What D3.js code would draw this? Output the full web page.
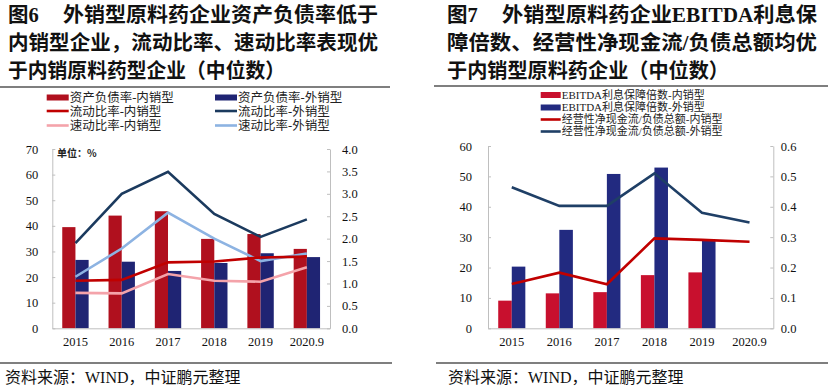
<!DOCTYPE html>
<html><head><meta charset="utf-8">
<script src="https://cdn.jsdelivr.net/npm/d3@7"></script>
<style>
body{margin:0;background:#fff;}
svg{display:block;}
text{font-family:"Liberation Serif","Noto Sans CJK SC",serif;}
</style></head>
<body>
<svg id="c" width="828" height="390"></svg>
<script>
// ---------- Data: Figure 6 ----------
const years6 = ["2015","2016","2017","2018","2019","2020.9"];
const debtRatioDomestic = [39.5, 44.0, 45.7, 34.9, 36.8, 31.0];
const debtRatioExport   = [26.7, 26.0, 22.4, 25.5, 29.3, 27.8];
const currentRatioDomestic = [1.06, 1.08, 1.47, 1.49, 1.58, 1.60];
const currentRatioExport   = [1.90, 3.00, 3.49, 2.55, 2.04, 2.43];
const quickRatioDomestic   = [0.79, 0.78, 1.21, 1.06, 1.04, 1.36];
const quickRatioExport     = [1.15, 1.78, 2.58, 2.00, 1.50, 1.67];
const leftTicks6 = [0,10,20,30,40,50,60,70];
const rightTicks6 = [0,0.5,1,1.5,2,2.5,3,3.5,4];

// ---------- Data: Figure 7 ----------
const years7 = ["2015","2016","2017","2018","2019","2020.9"];
const ebitdaDomestic = [9.1, 11.5, 11.9, 17.5, 18.4, null];
const ebitdaExport   = [20.3, 32.4, 50.8, 52.9, 29.1, null];
const cfoDebtDomestic = [0.146, 0.183, 0.145, 0.296, 0.291, 0.285];
const cfoDebtExport   = [0.464, 0.403, 0.403, 0.510, 0.380, 0.348];
const leftTicks7 = [0,10,20,30,40,50,60];
const rightTicks7 = [0,0.1,0.2,0.3,0.4,0.5,0.6];

const svg = d3.select("#c");
const AX = "#BFBFBF";

function titleBlock(x0, prefix, restX, lines, rightEdge){
  const g = svg.append("g").attr("font-weight","700").attr("font-size",20.5).attr("fill","#111")
    .style("font-family","'Liberation Serif','Noto Sans CJK SC',serif");
  g.append("text").attr("x",x0).attr("y",22).text(prefix);
  g.append("text").attr("x",restX).attr("y",22).text(lines[0])
    .attr("textLength",rightEdge-restX).attr("lengthAdjust","spacingAndGlyphs");
  g.append("text").attr("x",x0).attr("y",50).text(lines[1])
    .attr("textLength",rightEdge-x0).attr("lengthAdjust","spacingAndGlyphs");
  g.append("text").attr("x",x0).attr("y",78).text(lines[2].t)
    .attr("textLength",lines[2].w).attr("lengthAdjust","spacingAndGlyphs");
}

titleBlock(8, "图6", 63, ["外销型原料药企业资产负债率低于","内销型企业，流动比率、速动比率表现优",{t:"于内销原料药型企业（中位数）",w:277}], 378);
titleBlock(447, "图7", 502, ["外销型原料药企业EBITDA利息保","障倍数、经营性净现金流/负债总额均优",{t:"于内销型原料药企业（中位数）",w:282}], 817);

// separator lines
svg.append("line").attr("x1",0).attr("x2",390).attr("y1",87).attr("y2",87).attr("stroke","#000").attr("stroke-width",1.2);
svg.append("line").attr("x1",434).attr("x2",828).attr("y1",86).attr("y2",86).attr("stroke","#000").attr("stroke-width",1.2);
svg.append("line").attr("x1",0).attr("x2",392).attr("y1",363).attr("y2",363).attr("stroke","#000").attr("stroke-width",1.2);
svg.append("line").attr("x1",436).attr("x2",828).attr("y1",363).attr("y2",363).attr("stroke","#000").attr("stroke-width",1.2);
svg.append("text").attr("x",5).attr("y",383).attr("font-size",16).attr("fill","#111").text("资料来源：WIND，中证鹏元整理");
svg.append("text").attr("x",448).attr("y",383).attr("font-size",16).attr("fill","#111").text("资料来源：WIND，中证鹏元整理");

function chart(cfg){
  const g = svg.append("g");
  const x = d3.scaleBand().domain(cfg.cats).range([cfg.x0, cfg.x1]).padding(0);
  const xs = d3.scaleBand().domain([0,1]).range([x.bandwidth()*0.215, x.bandwidth()*0.785]);
  const y = d3.scaleLinear().domain([0,cfg.lmax]).range([cfg.yb, cfg.yt]);
  const y2 = d3.scaleLinear().domain([0,cfg.rmax]).range([cfg.yb, cfg.yt]);

  // bars
  cfg.bars.forEach((b,i)=>{
    g.append("g").selectAll("rect").data(b.values.map((v,j)=>({v,c:cfg.cats[j]})).filter(d=>d.v!=null))
      .join("rect")
      .attr("x",d=>x(d.c)+xs(i)).attr("width",xs.bandwidth())
      .attr("y",d=>y(d.v)).attr("height",d=>y(0)-y(d.v))
      .attr("fill",b.color);
  });

  // axes
  const la = g.append("g").attr("transform",`translate(${cfg.x0},0)`)
    .call(d3.axisLeft(y).tickValues(cfg.lticks).tickFormat(d3.format("d")).tickSizeInner(-3).tickSizeOuter(0).tickPadding(cfg.lpad));
  const ra = g.append("g").attr("transform",`translate(${cfg.x1},0)`)
    .call(d3.axisRight(y2).tickValues(cfg.rticks).tickFormat(d3.format(".1f")).tickSizeInner(-3).tickSizeOuter(0).tickPadding(cfg.rpad));
  const ba = g.append("g").attr("transform",`translate(0,${cfg.yb})`)
    .call(d3.axisBottom(x).tickSize(0).tickPadding(9));
  [la,ra,ba].forEach(a=>{
    a.selectAll("path,line").attr("stroke",AX);
    a.selectAll("text").attr("font-size",12.5).attr("fill","#111")
      .style("font-family","'Liberation Serif',serif");
  });

  // lines
  cfg.lines.forEach(l=>{
    const line = d3.line().defined(d=>d.v!=null).x(d=>x(d.c)+x.bandwidth()/2).y(d=>y2(d.v));
    g.append("path").datum(l.values.map((v,j)=>({v,c:cfg.cats[j]})))
      .attr("d",line).attr("fill","none").attr("stroke",l.color).attr("stroke-width",2.6)
      .attr("stroke-linejoin","miter");
  });

  // legend
  cfg.legend.forEach(it=>{
    if(it.type==="bar"){
      g.append("rect").attr("x",it.x).attr("y",it.y-3).attr("width",it.w).attr("height",6).attr("fill",it.color);
    } else {
      g.append("line").attr("x1",it.x).attr("x2",it.x+it.w).attr("y1",it.y).attr("y2",it.y)
        .attr("stroke",it.color).attr("stroke-width",2.6);
    }
    g.append("text").attr("x",it.x+it.w+1).attr("y",it.y).attr("dy","0.36em")
      .attr("font-size",cfg.lfs).attr("fill","#222").text(it.label);
  });
  return {x,y,y2,g};
}

const c6 = chart({
  cats: years6, x0: 52.3, x1: 330, yt: 149, yb: 328.3, lmax: 70, rmax: 4,
  lticks: leftTicks6, rticks: rightTicks6, lpad: 14, rpad: 12, lfs: 12.5,
  bars: [{values: debtRatioDomestic, color:"#B0101E"},{values: debtRatioExport, color:"#1F2473"}],
  lines: [
    {values: currentRatioExport, color:"#1B3A5E"},
    {values: quickRatioExport, color:"#8DB3E2"},
    {values: currentRatioDomestic, color:"#C00000"},
    {values: quickRatioDomestic, color:"#F4A3AA"}
  ],
  legend: [
    {type:"bar", x:46.7, y:97.5, w:22, color:"#B0101E", label:"资产负债率-内销型"},
    {type:"bar", x:215, y:97.5, w:22, color:"#1F2473", label:"资产负债率-外销型"},
    {type:"line", x:46.7, y:111, w:22, color:"#C00000", label:"流动比率-内销型"},
    {type:"line", x:215, y:111, w:22, color:"#1B3A5E", label:"流动比率-外销型"},
    {type:"line", x:46.7, y:125.5, w:22, color:"#F4A3AA", label:"速动比率-内销型"},
    {type:"line", x:215, y:125.5, w:22, color:"#8DB3E2", label:"速动比率-外销型"}
  ]
});
c6.g.append("text").attr("x",57).attr("y",157).attr("font-size",10).attr("font-weight",700)
  .style("font-family","'Noto Sans CJK SC',sans-serif").attr("fill","#222").text("单位：%");

chart({
  cats: years7, x0: 488, x1: 773.3, yt: 146, yb: 328.3, lmax: 60, rmax: 0.6,
  lticks: leftTicks7, rticks: rightTicks7, lpad: 16, rpad: 7.5, lfs: 11,
  bars: [{values: ebitdaDomestic, color:"#C8102E"},{values: ebitdaExport, color:"#222A80"}],
  lines: [
    {values: cfoDebtExport, color:"#1F3F66"},
    {values: cfoDebtDomestic, color:"#C00000"}
  ],
  legend: [
    {type:"bar", x:540.7, y:95, w:20, color:"#C8102E", label:"EBITDA利息保障倍数-内销型"},
    {type:"bar", x:540.7, y:107.5, w:20, color:"#222A80", label:"EBITDA利息保障倍数-外销型"},
    {type:"line", x:540.7, y:119.5, w:20, color:"#C00000", label:"经营性净现金流/负债总额-内销型"},
    {type:"line", x:540.7, y:131.5, w:20, color:"#1F3F66", label:"经营性净现金流/负债总额-外销型"}
  ]
});
</script>
</body></html>
